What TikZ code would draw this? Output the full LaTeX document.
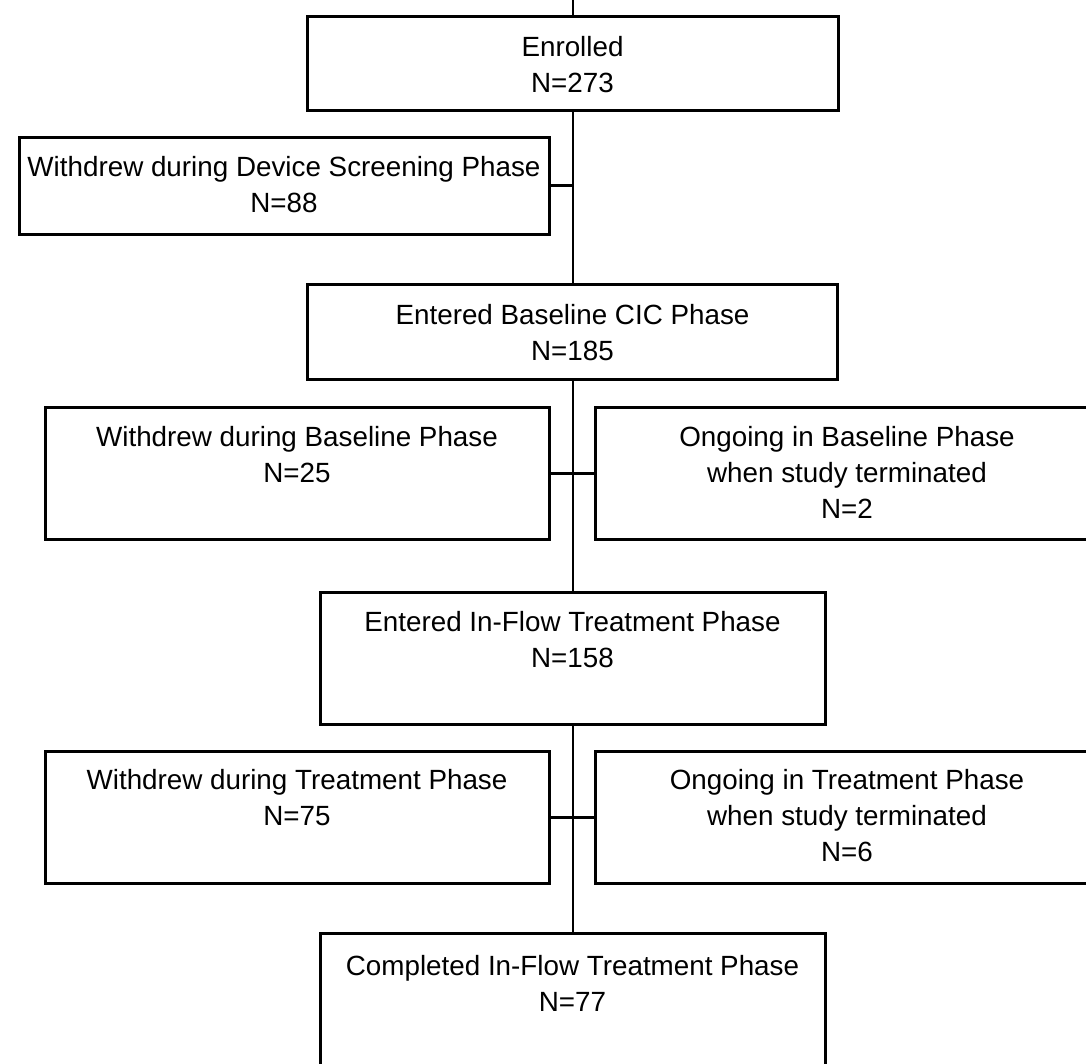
\documentclass[tikz,border=0pt]{standalone}
\usepackage{fontspec}
\setmainfont{Liberation Sans}
\usetikzlibrary{positioning}
\tikzstyle{stage}=[rectangle,draw=black,line width=1.5pt,inner sep=0pt]
\tikzstyle{caption}=[align=center,inner sep=0pt,anchor=north]
\tikzstyle{trunk}=[black,line width=1pt]
\tikzstyle{branch}=[black,line width=1.5pt]

\begin{document}
\begin{tikzpicture}[x=0.5pt,y=-0.5pt,font=\fontsize{13.9}{18.2}\selectfont]

      \useasboundingbox (0,0) rectangle (1086,1064);
      \clip (0,0) rectangle (1086,1064);

      % boxes of the main column
      \node (enrolled) at (572.5,64) [stage,minimum width=265.5pt,minimum height=47pt] {};
      \node (baseline) at (572.5,331.5) [stage,minimum width=265pt,minimum height=47.5pt] {};
      \node (inflow) at (572.5,658) [stage,minimum width=252.5pt,minimum height=66pt] {};
      \node (completed) at (572.5,999) [stage,minimum width=252.5pt,minimum height=66pt] {};

      % side boxes
      \node (screen) at (284,186) [stage,minimum width=265pt,minimum height=48.5pt] {};
      \node (wbase) at (297,473) [stage,minimum width=252pt,minimum height=66pt] {};
      \node (obase) at (847,473) [stage,minimum width=252pt,minimum height=66pt] {};
      \node (wtreat) at (297,817) [stage,minimum width=252pt,minimum height=66pt] {};
      \node (otreat) at (847,817) [stage,minimum width=252pt,minimum height=66pt] {};

      % texts
      \node (enrolled-txt) [caption,below=10pt of enrolled.north] {Enrolled\\N=273};
      \node (screen-txt) [caption,below=10pt of screen.north] {Withdrew during Device Screening Phase\\N=88};
      \node (baseline-txt) [caption,below=10.5pt of baseline.north] {Entered Baseline CIC Phase\\N=185};
      \node (wbase-txt) [caption,below=10pt of wbase.north] {Withdrew during Baseline Phase\\N=25};
      \node (obase-txt) [caption,below=10pt of obase.north] {Ongoing in Baseline Phase\\when study terminated\\N=2};
      \node (inflow-txt) [caption,below=10pt of inflow.north] {Entered In-Flow Treatment Phase\\N=158};
      \node (wtreat-txt) [caption,below=9.5pt of wtreat.north] {Withdrew during Treatment Phase\\N=75};
      \node (otreat-txt) [caption,below=9.5pt of otreat.north] {Ongoing in Treatment Phase\\when study terminated\\N=6};
      \node (completed-txt) [caption,below=11.5pt of completed.north] {Completed In-Flow Treatment Phase\\N=77};

      % connectors
      \coordinate (top) at (572.5,0);
      \draw[trunk] (top) -- (enrolled.north);
      \draw[trunk] (enrolled.south) -- (baseline.north);
      \draw[trunk] (baseline.south) -- (inflow.north);
      \draw[trunk] (inflow.south) -- (completed.north);

      \draw[branch] (screen.east) -- (screen.east -| enrolled.south);
      \draw[branch] (wbase.east) -- (obase.west);
      \draw[branch] (wtreat.east) -- (otreat.west);

\end{tikzpicture}
\end{document}
